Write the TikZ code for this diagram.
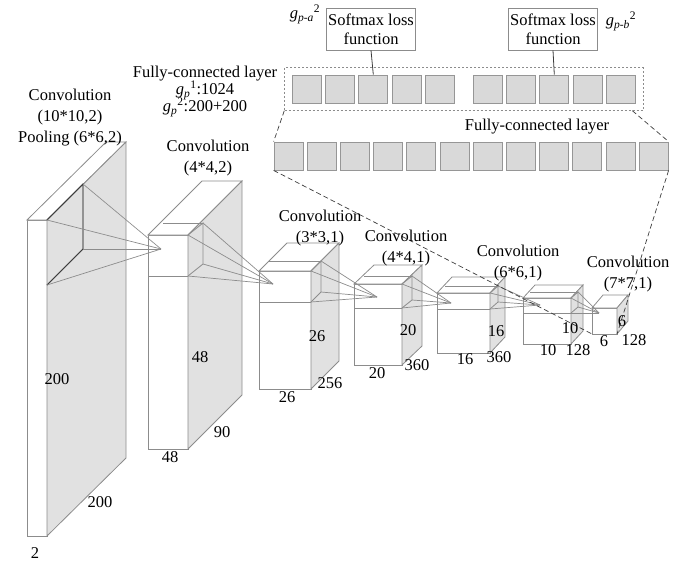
\documentclass[tikz,border=0pt]{standalone}
\usepackage{fontspec}
\setmainfont{Liberation Serif}
\usetikzlibrary{positioning,calc,fit}
\definecolor{edgegray}{RGB}{140,140,140}
\definecolor{sidegray}{RGB}{225,225,225}
\definecolor{cellgray}{RGB}{217,217,217}
\definecolor{celledge}{RGB}{150,150,150}
\definecolor{darkline}{RGB}{60,60,60}

% cuboid: name, front x1, y1, x2, y2, depth dx, dy
\newcommand{\convblock}[7]{%
  \coordinate (#1-ftl) at (#2,#3);
  \coordinate (#1-ftr) at (#4,#3);
  \coordinate (#1-fbl) at (#2,#5);
  \coordinate (#1-fbr) at (#4,#5);
  \coordinate (#1-btl) at ($(#1-ftl)+(#6,-#7)$);
  \coordinate (#1-btr) at ($(#1-ftr)+(#6,-#7)$);
  \coordinate (#1-bbr) at ($(#1-fbr)+(#6,-#7)$);
  \draw[blockline,fill=white] (#1-fbl) rectangle (#1-ftr);
  \draw[blockline,fill=white] (#1-ftl) -- (#1-ftr) -- (#1-btr) -- (#1-btl) -- cycle;
  \draw[blockline,fill=sidegray] (#1-ftr) -- (#1-btr) -- (#1-bbr) -- (#1-fbr) -- cycle;
}
% kernel on the right face: name, dx, dy, height
\newcommand{\convkernel}[4]{%
  \coordinate (#1-k1) at (#1-ftr);
  \coordinate (#1-k2) at ($(#1-ftr)+(#2,-#3)$);
  \coordinate (#1-k3) at ($(#1-k2)+(0,#4)$);
  \coordinate (#1-k4) at ($(#1-ftr)+(0,#4)$);
  \draw[kernelline] (#1-k1) -- (#1-k2) -- (#1-k3) -- (#1-k4);
}
% kernel edges on front and top faces
\newcommand{\kernelfront}[4]{%
  \draw[kernelline] ($(#1-ftl)+(0,#4)$) -- (#1-k4);
  \draw[kernelline] ($(#1-ftl)+(#2,-#3)$) -- (#1-k2);
}

\begin{document}
\begin{tikzpicture}[
  x=1pt,y=-1pt,
  font=\fontsize{16.5}{21}\selectfont,
  blockline/.style={draw=edgegray,line width=0.8pt,line join=miter},
  kernelline/.style={draw=edgegray,line width=0.8pt},
  rayline/.style={draw=edgegray,line width=0.7pt},
  fcsq/.style={draw=celledge,fill=cellgray,line width=0.8pt,
               minimum width=29pt,minimum height=28pt,inner sep=0pt},
  fcbox/.style={draw=edgegray,dashed,dash pattern=on 2pt off 2pt,
                line width=0.6pt,inner sep=7pt},
  softbox/.style={draw=edgegray,line width=0.8pt,align=center,
                  minimum width=88pt,minimum height=42pt,inner sep=2pt,
                  font=\fontsize{16.5}{19}\selectfont},
  dashline/.style={draw=darkline,dashed,dash pattern=on 5pt off 3pt,line width=0.7pt},
  lbl/.style={inner sep=0pt,align=center},
]
  \useasboundingbox (0,0) rectangle (695,567);

  % feature maps
  \convblock{b1}{27}{220}{47}{536}{79}{78}
  \convblock{b2}{148}{235}{188}{449}{54}{54}
  \convblock{b3}{259}{271}{311}{389}{28}{28}
  \convblock{b4}{354}{284}{402}{365}{20}{19}
  \convblock{b5}{437}{293}{490}{353}{15}{16}
  \convblock{b6}{523}{298}{571}{344}{12}{13}
  \convblock{b7}{592}{308}{617}{334}{11}{13}

  \convkernel{b2}{15}{12}{41}
  \kernelfront{b2}{15}{12}{41}
  \convkernel{b3}{10}{10}{31}
  \kernelfront{b3}{10}{10}{31}
  \convkernel{b4}{10}{8}{24}
  \kernelfront{b4}{10}{8}{24}
  \convkernel{b5}{8}{7}{16}
  \kernelfront{b5}{8}{7}{16}
  \convkernel{b6}{7}{6}{15}
  \kernelfront{b6}{7}{6}{15}
  \convkernel{b1}{36}{36}{65}
  \draw[darkline,line width=0.8pt] (b1-k1) -- (b1-k2) -- (b1-k3) -- (b1-k4);

  % receptive fields
  \coordinate (a2) at (161,249);
  \coordinate (a3) at (273,284);
  \coordinate (a4) at (377,297);
  \coordinate (a5) at (451,303);
  \coordinate (a6) at (540,305);
  \coordinate (a7) at (599,313);
  \foreach \k in {1,...,4} {
    \draw[rayline] (b1-k\k) -- (a2);
    \draw[rayline] (b2-k\k) -- (a3);
    \draw[rayline] (b3-k\k) -- (a4);
    \draw[rayline] (b4-k\k) -- (a5);
    \draw[rayline] (b5-k\k) -- (a6);
    \draw[rayline] (b6-k\k) -- (a7);
  }

  % fully-connected layers
  \node[fcsq] (l1) at (288.5,156) {};
  \foreach \i [count=\j from 2] in {1,...,11}
    \node[fcsq,right=3.4pt of l\i] (l\j) {};
  \node[fcsq] (t1) at (306.5,89) {};
  \foreach \i [count=\j from 2] in {1,...,4}
    \node[fcsq,right=3.6pt of t\i] (t\j) {};
  \node[fcsq] (t6) at (487.5,89) {};
  \foreach \i [count=\j from 7] in {6,...,9}
    \node[fcsq,right=3.6pt of t\i] (t\j) {};
  \node[fcbox,fit=(t1)(t10)] (fcb) {};

  \node[softbox] (sm1) at (371,29) {Softmax loss\\function};
  \node[softbox] (sm2) at (553,29) {Softmax loss\\function};
  \draw[darkline,line width=0.8pt] (sm1.south) -- (t3.north);
  \draw[darkline,line width=0.8pt] (sm2.south) -- (t8.north);

  \draw[dashline] (fcb.south west) -- (l1.north west);
  \draw[dashline] ($(fcb.south east)+(-11,0)$) -- (l12.north east);
  \draw[dashline] (l1.south west) -- (b7-fbl);
  \draw[dashline] (l12.south east) -- (b7-fbr);

  % labels
  \node[lbl] (ga) at (305,14) {\textit{g}\textsubscript{\textit{p-a}}\textsuperscript{2}};
  \node[lbl] (gb) at (621,21) {\textit{g}\textsubscript{\textit{p-b}}\textsuperscript{2}};
  \node[lbl,anchor=base] (fc1) at (205,78) {Fully-connected layer};
  \node[lbl,anchor=base] (gp1) at (205,95) {\textit{g}\textsubscript{\textit{p}}\textsuperscript{1}:1024};
  \node[lbl,anchor=base] (gp2) at (205,112) {\textit{g}\textsubscript{\textit{p}}\textsuperscript{2}:200+200};
  \node[lbl] (fc2) at (537,127) {Fully-connected layer};

  \node[lbl] (c1) at (70,118) {Convolution\\(10*10,2)\\Pooling (6*6,2)};
  \node[lbl] (c2) at (208,158) {Convolution\\(4*4,2)};
  \node[lbl] (c3) at (320,228.5) {Convolution\\(3*3,1)};
  \node[lbl] (c4) at (406,248.5) {Convolution\\(4*4,1)};
  \node[lbl] (c5) at (518,263) {Convolution\\(6*6,1)};
  \node[lbl] (c7) at (628,274) {Convolution\\(7*7,1)};

  \node[lbl] (d1h) at (57,379) {200};
  \node[lbl] (d1d) at (100,502) {200};
  \node[lbl] (d1w) at (35,553) {2};
  \node[lbl] (d2h) at (200,357) {48};
  \node[lbl] (d2w) at (170,457) {48};
  \node[lbl] (d2d) at (222,432) {90};
  \node[lbl] (d3h) at (317,336) {26};
  \node[lbl] (d3w) at (287,397) {26};
  \node[lbl] (d3d) at (330,383) {256};
  \node[lbl] (d4h) at (408,330) {20};
  \node[lbl] (d4w) at (377,373) {20};
  \node[lbl] (d4d) at (417,365) {360};
  \node[lbl] (d5h) at (496,331) {16};
  \node[lbl] (d5w) at (465,359) {16};
  \node[lbl] (d5d) at (499,357) {360};
  \node[lbl] (d6h) at (570,328) {10};
  \node[lbl] (d6w) at (548,350) {10};
  \node[lbl] (d6d) at (578,350) {128};
  \node[lbl] (d7h) at (622,321) {6};
  \node[lbl] (d7w) at (604,341) {6};
  \node[lbl] (d7d) at (634,340) {128};
\end{tikzpicture}
\end{document}
